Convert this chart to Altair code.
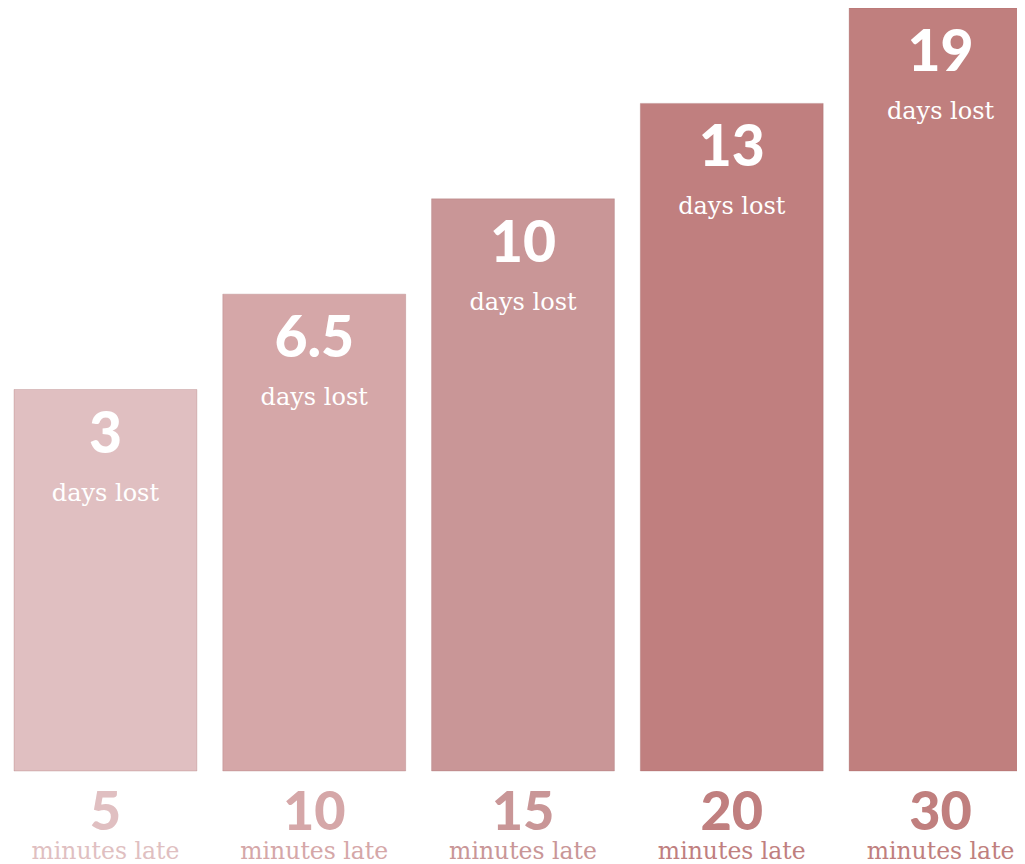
import altair as alt
import pandas as pd

# ---- data ----
minutes_late = ["5", "10", "15", "20", "30"]
days_lost = ["3", "6.5", "10", "13", "19"]
bar_level = [4, 5, 6, 7, 8]          # staircase heights of the bars (not proportional)
bar_colors = ["#e0bfc1", "#d5a7a8", "#c99697", "#c07f7f", "#c07f7e"]
days_text = "days lost"
minutes_text = "minutes late"

df = pd.DataFrame({
    "minutes": minutes_late,
    "days": days_lost,
    "level": bar_level,
    "days_label": [days_text] * len(minutes_late),
    "minutes_label": [minutes_text] * len(minutes_late),
})

x = alt.X("minutes:N", sort=minutes_late, axis=None,
          scale=alt.Scale(range=[6, 1024], paddingInner=0.124, paddingOuter=0))
y_scale = alt.Scale(domain=[0, 8], range=[763, 0])
color = alt.Color("minutes:N", sort=minutes_late, legend=None,
                  scale=alt.Scale(domain=minutes_late, range=bar_colors))

base = alt.Chart(df)

bars = base.mark_bar(stroke="#9a5a5a", strokeOpacity=0.25, strokeWidth=1, clip=True).encode(
    x=x,
    y=alt.Y("level:Q", scale=y_scale, axis=None),
    y2=alt.datum(0),
    color=color,
)

top_num = base.mark_text(font="Lato", fontWeight=900, fontSize=57, color="white",
                         baseline="alphabetic", dy=63).encode(
    x=x, y=alt.Y("level:Q", scale=y_scale), text="days:N")

top_txt = base.mark_text(font="DejaVu Serif", fontSize=24, color="white",
                         baseline="middle", dy=104).encode(
    x=x, y=alt.Y("level:Q", scale=y_scale), text="days_label:N")

bot_num = base.mark_text(font="Lato", fontWeight=900, fontSize=54,
                         baseline="alphabetic", dy=59).encode(
    x=x, y=alt.datum(0, scale=y_scale), text="minutes:N", color=color)

bot_txt = base.mark_text(font="DejaVu Serif", fontSize=23.5,
                         baseline="alphabetic", dy=88).encode(
    x=x, y=alt.datum(0, scale=y_scale), text="minutes_label:N", color=color)

chart = alt.layer(bars, top_num, top_txt, bot_num, bot_txt).properties(
    width=1009, height=856,
    autosize=alt.AutoSizeParams(type="none"),
    padding=0,
    background="white",
).configure_view(stroke=None)

chart.save("out.html", embed_options={"renderer": "svg", "actions": False})
